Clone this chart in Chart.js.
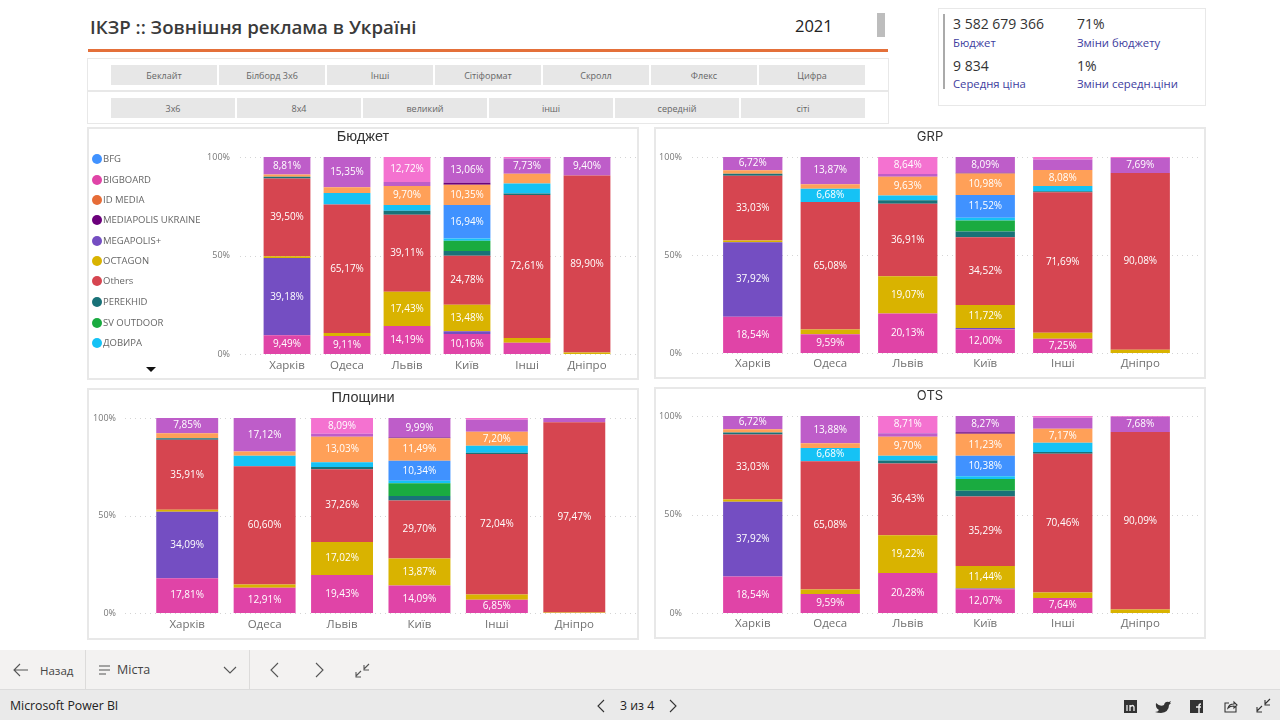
<!DOCTYPE html>
<html lang="uk"><head><meta charset="utf-8">
<script src="https://cdn.jsdelivr.net/npm/chart.js@4"></script>
<style>
html,body{margin:0;padding:0;background:#fff;width:1280px;height:720px;overflow:hidden;font-family:"Open Sans",sans-serif}
.a{position:absolute;white-space:nowrap}
.panel{position:absolute;box-sizing:border-box;border:2px solid #e8e8e8;background:#fff}
.btn{position:absolute;background:#e7e7e7;color:#666;font-size:9px;text-align:center;line-height:22px;height:20px}
canvas{position:absolute;left:0;top:0}
.lg{position:absolute;left:103px;font-size:9.5px;color:#666;line-height:12px;transform:translateY(-6px)}
.dot{position:absolute;left:92px;width:10px;height:10px;border-radius:50%;transform:translateY(-5px)}
.t{position:absolute;text-align:center;color:#333;transform:translateY(-50%)}
.kv{font-size:14px;color:#333}.kl{font-size:11.3px;color:#3d3d9e;line-height:17px}
svg{position:absolute;overflow:visible}
</style></head><body>
<div class="a" style="left:90px;top:12px;font-size:18.7px;font-weight:600;color:#3a3a3a;line-height:30px">ІКЗР :: Зовнішня реклама в Україні</div>
<div class="a" style="left:795px;top:14px;font-size:16.5px;color:#222;line-height:24px">2021</div>
<div class="a" style="left:877px;top:13px;width:8px;height:24px;background:#bdbdbd"></div>
<div class="a" style="left:88px;top:49px;width:800px;height:3px;background:#e4703a"></div>
<div class="panel" style="left:87px;top:58px;width:802px;height:33px;border-width:1.5px"></div>
<div class="panel" style="left:87px;top:91px;width:802px;height:33px;border-width:1.5px"></div>
<div id="btns"></div>

<div class="panel" style="left:938px;top:8px;width:268px;height:98px;border-width:1.5px"></div>
<div class="a" style="left:943px;top:14px;width:1.5px;height:75px;background:#aaa"></div>
<div class="a kv" style="left:953px;top:14px">3 582 679 366</div>
<div class="a kl" style="left:953px;top:34px">Бюджет</div>
<div class="a kv" style="left:1077px;top:14px">71%</div>
<div class="a kl" style="left:1077px;top:34px">Зміни бюджету</div>
<div class="a kv" style="left:953px;top:56px">9 834</div>
<div class="a kl" style="left:953px;top:75px">Середня ціна</div>
<div class="a kv" style="left:1077px;top:56px">1%</div>
<div class="a kl" style="left:1077px;top:75px">Зміни середн.ціни</div>

<div id="panels"></div>
<div id="legend"></div>
<div class="a" style="left:146px;top:367px;width:0;height:0;border-left:5px solid transparent;border-right:5px solid transparent;border-top:5px solid #111"></div>

<div class="a" style="left:0;top:650px;width:1280px;height:39px;background:#f3f2f1"></div>
<div class="a" style="left:0;top:689px;width:1280px;height:1px;background:#dcdcdc"></div>
<div class="a" style="left:0;top:690px;width:1280px;height:30px;background:#eaeaea"></div>
<div class="a" style="left:85px;top:650px;width:1px;height:39px;background:#dcdbda"></div>
<div class="a" style="left:249px;top:650px;width:1px;height:39px;background:#dcdbda"></div>
<div class="a" style="left:40px;top:662px;font-size:11.5px;color:#444;line-height:18px">Назад</div>
<div class="a" style="left:117px;top:661px;font-size:12.5px;color:#444;line-height:18px">Міста</div>
<div class="a" style="left:10px;top:697px;font-size:12.3px;color:#222;line-height:18px;font-weight:500">Microsoft Power BI</div>
<div class="a" style="left:620px;top:697px;font-size:12.3px;color:#222;line-height:18px;font-weight:500">3 из 4</div>
<svg style="left:0;top:0" width="1280" height="720" fill="none" stroke="#555" stroke-width="1.1">
<path d="M28 670H14M20 664l-6 6 6 6"/>
<path d="M99 666h11M99 670h11M99 674h7"/>
<path d="M224 667l6 6 6-6"/>
<path d="M278 663l-7 7 7 7M316 663l7 7-7 7"/>
<path d="M356 676l5-5M356 672v5h5M369 664l-5 5M364 665v5h5"/>
<path d="M604 700l-6 6 6 6M670 700l6 6-6 6" stroke="#333"/>
<path d="M1257 711l5-5M1257 707v5h5M1270 699l-5 5M1265 700v5h5" stroke="#333"/>
<rect x="1124" y="700" width="13" height="13" fill="#333" stroke="none"/>
<path d="M1127 705v6M1130 711v-6M1130 707q3-3 4 0v4" stroke="#eee" stroke-width="1.3"/>
<path d="M1156 703q4 4 8 2q1-4 5-3l2-1-1 2 1 0q-1 1-2 2q0 7-8 8q-3 0-6-1q3 0 4-2q-4-2-3-7z" fill="#333" stroke="none"/>
<rect x="1190" y="700" width="13" height="13" fill="#333" stroke="none"/>
<path d="M1199 713v-7q0-2 2-2M1196 707h5" stroke="#eee" stroke-width="1.5"/>
<path d="M1236 706v6h-11v-9h4M1228 708q1-4 6-4v-2l3 3-3 3v-2q-4 0-6 2z" stroke="#333"/>
</svg>

<script>
// Categories and axis
const cities = ["Харків","Одеса","Львів","Київ","Інші","Дніпро"];
const yTicks = [0,50,100];
const row1Labels = ["Беклайт","Білборд 3х6","Інші","Сітіформат","Скролл","Флекс","Цифра"];
const row2Labels = ["3х6","8х4","великий","інші","середній","сіті"];
const legendNames = ["BFG","BIGBOARD","ID MEDIA","MEDIAPOLIS UKRAINE","MEGAPOLIS+","OCTAGON","Others","PEREKHID","SV OUTDOOR","ДОВИРА"];
const legendColors = ["#4092ff","#e044a7","#e66c37","#6b007b","#744ec2","#d9b300","#d64550","#197278","#1aab40","#15c2f5"];

// Series colours, bottom to top of the stack
const stackNames = ["BIGBOARD","MEGAPOLIS+","OCTAGON","Others","PEREKHID","SV OUTDOOR","ДОВИРА","BFG","(оператор A)","MEDIAPOLIS UKRAINE","(оператор B)","(оператор C)"];
const stackColors = ["#e044a7","#744ec2","#d9b300","#d64550","#197278","#1aab40","#15c2f5","#4092ff","#ffa058","#6b007b","#be5dc9","#f472d0"];

// Бюджет
const budgetBigboard=[9.49,9.11,14.19,10.16,5.7,0];
const budgetMegapolis=[39.18,0,0,1.4,0,0];
const budgetOctagon=[0.9,1.6,17.43,13.48,2.4,0.7];
const budgetOthers=[39.5,65.17,39.11,24.78,72.61,89.9];
const budgetPerekhid=[0.9,0,2.0,2.5,0.8,0];
const budgetSv=[0,0,0,5.2,0,0];
const budgetDovyra=[0,5.9,2.9,1.12,5.0,0];
const budgetBfg=[0,0,0,16.94,0,0];
const budgetA=[1.2,2.87,9.7,10.35,5.0,0];
const budgetMediapolis=[0,0,0,1.0,0,0];
const budgetB=[8.81,15.35,1.95,13.06,7.73,9.4];
const budgetC=[0,0,12.72,0,0.76,0];
// GRP
const grpBigboard=[18.54,9.59,20.13,12.0,7.25,0];
const grpMegapolis=[37.92,0,0,0.8,0,0];
const grpOctagon=[1.0,2.4,19.07,11.72,3.1,1.7];
const grpOthers=[33.03,65.08,36.91,34.52,71.69,90.08];
const grpPerekhid=[1.0,0,1.8,2.9,0.5,0];
const grpSv=[0,0,0,5.6,0,0];
const grpDovyra=[0,6.68,2.4,1.5,2.7,0];
const grpBfg=[0,0,0,11.52,0,0];
const grpA=[1.79,2.38,9.63,10.98,8.08,0];
const grpMediapolis=[0,0,0,0.37,0,0];
const grpB=[6.72,13.87,1.4,8.09,5.4,7.69];
const grpC=[0,0,8.64,0,1.28,0.53];
// Площини
const areaBigboard=[17.81,12.91,19.43,14.09,6.85,0];
const areaMegapolis=[34.09,0,0,0,0,0];
const areaOctagon=[1.0,1.7,17.02,13.87,2.6,0.3];
const areaOthers=[35.91,60.6,37.26,29.7,72.04,97.47];
const areaPerekhid=[0.8,0,1.2,2.4,0.7,0];
const areaSv=[0,0,0,6.5,0,0];
const areaDovyra=[0,5.4,2.4,1.2,3.6,0];
const areaBfg=[0,0,0,10.34,0,0];
const areaA=[2.54,2.27,13.03,11.49,7.2,0];
const areaMediapolis=[0,0,0,0.4,0,0];
const areaB=[7.85,17.12,1.57,9.99,6.1,2.23];
const areaC=[0,0,8.09,0,0.91,0];
// OTS
const otsBigboard=[18.54,9.59,20.28,12.07,7.64,0];
const otsMegapolis=[37.92,0,0,0.4,0,0];
const otsOctagon=[1.1,2.4,19.22,11.44,2.8,1.8];
const otsOthers=[33.03,65.08,36.43,35.29,70.46,90.09];
const otsPerekhid=[1.0,0,1.5,2.9,0.8,0];
const otsSv=[0,0,0,5.9,0,0];
const otsDovyra=[0,6.68,2.4,1.4,4.7,0];
const otsBfg=[0,0,0,10.38,0,0];
const otsA=[1.69,2.37,9.7,11.23,7.17,0];
const otsMediapolis=[0,0,0,0.72,0,0];
const otsB=[6.72,13.88,1.76,8.27,5.5,7.68];
const otsC=[0,0,8.71,0,0.93,0.43];

const budgetSeries=[budgetBigboard,budgetMegapolis,budgetOctagon,budgetOthers,budgetPerekhid,budgetSv,budgetDovyra,budgetBfg,budgetA,budgetMediapolis,budgetB,budgetC];
const grpSeries=[grpBigboard,grpMegapolis,grpOctagon,grpOthers,grpPerekhid,grpSv,grpDovyra,grpBfg,grpA,grpMediapolis,grpB,grpC];
const areaSeries=[areaBigboard,areaMegapolis,areaOctagon,areaOthers,areaPerekhid,areaSv,areaDovyra,areaBfg,areaA,areaMediapolis,areaB,areaC];
const otsSeries=[otsBigboard,otsMegapolis,otsOctagon,otsOthers,otsPerekhid,otsSv,otsDovyra,otsBfg,otsA,otsMediapolis,otsB,otsC];

const LABEL_MIN = 6.6;
const FONT = '"Open Sans", sans-serif';

// Slicer buttons
const btns=document.getElementById('btns');
function addBtns(labels,x0,w,gap,top){labels.forEach((l,i)=>{const d=document.createElement('div');d.className='btn';
 d.style.cssText=`left:${x0+i*(w+gap)}px;top:${top}px;width:${w}px`;d.textContent=l;btns.appendChild(d);});}
addBtns(row1Labels,111,106,2,65);
addBtns(row2Labels,111,124,2,98);

// Legend
const lg=document.getElementById('legend');
const legendY=[159,180,200,220,241,261,281,302,323,343];
legendNames.forEach((n,i)=>{
 const d=document.createElement('div');d.className='dot';d.style.top=legendY[i]+'px';d.style.background=legendColors[i];lg.appendChild(d);
 const t=document.createElement('div');t.className='lg';t.style.top=legendY[i]+'px';t.textContent=n;lg.appendChild(t);
});

// Plugins: dotted value lines and in-bar labels
const dottedGrid={id:'dottedGrid',beforeDatasetsDraw(c,a,o){
 const y=c.scales.y,ctx=c.ctx;ctx.save();ctx.strokeStyle='#d4d4d4';ctx.lineWidth=1;ctx.setLineDash([1,4]);
 yTicks.forEach(v=>{const py=Math.round(y.getPixelForValue(v))+.5;ctx.beginPath();ctx.moveTo(o.x0,py);ctx.lineTo(o.x1,py);ctx.stroke();});
 ctx.restore();}};
const barLabels={id:'barLabels',afterDatasetsDraw(c){
 const ctx=c.ctx;ctx.save();ctx.font='10px '+FONT;ctx.fillStyle='#fff';ctx.textAlign='center';ctx.textBaseline='middle';
 c.data.datasets.forEach((ds,i)=>{c.getDatasetMeta(i).data.forEach((b,j)=>{const v=ds.data[j];
  if(v>=LABEL_MIN){ctx.fillText(v.toFixed(2).replace('.',',')+'%',b.x,(b.y+b.base)/2);}});});
 ctx.restore();}};

function makePanel(p){
 const host=document.getElementById('panels');
 const box=document.createElement('div');box.className='panel';
 box.style.cssText=`left:${p.x}px;top:${p.y}px;width:${p.w}px;height:${p.h}px`;host.appendChild(box);
 const wrap=document.createElement('div');wrap.style.cssText=`position:absolute;left:${p.x}px;top:${p.y}px;width:${p.w}px;height:${p.h}px`;
 const cv=document.createElement('canvas');cv.width=p.w;cv.height=p.h;cv.style.width=p.w+'px';cv.style.height=p.h+'px';wrap.appendChild(cv);host.appendChild(wrap);
 const t=document.createElement('div');t.className='t';t.textContent=p.title;
 t.style.cssText=`left:${p.x}px;width:${p.w}px;top:${p.ty}px;font:${p.tf};color:#333`;host.appendChild(t);
 new Chart(cv,{type:'bar',
  data:{labels:cities,datasets:p.series.map((s,i)=>({label:stackNames[i],data:s,backgroundColor:stackColors[i],borderWidth:0,barPercentage:p.bar,categoryPercentage:1}))},
  plugins:[dottedGrid,barLabels],
  options:{responsive:false,animation:false,
   layout:{padding:{left:0,right:p.x+p.w-p.right,top:p.top-p.y,bottom:0}},
   plugins:{legend:{display:false},title:{display:false},tooltip:{enabled:false},dottedGrid:{x0:p.dot0-p.x,x1:p.dot1-p.x},barLabels:{}},
   scales:{
    x:{stacked:true,grid:{display:false,drawTicks:false},border:{display:false},
       ticks:{font:{size:11.5,family:FONT},color:'#707070',padding:p.xpad,maxRotation:0,autoSkip:false},
       afterFit(s){s.height=p.y+p.h-p.bottom;s.paddingLeft=0;s.paddingRight=0;}},
    y:{stacked:true,min:0,max:100,grid:{display:false,drawTicks:false},border:{display:false},
       afterBuildTicks(s){s.ticks=yTicks.map(v=>({value:v}));},
       ticks:{font:{size:9,family:FONT},color:'#777',padding:p.left-p.lab,callback:v=>v+'%'},
       afterFit(s){s.width=p.left-p.x;s.paddingTop=0;s.paddingBottom=0;}}
   }}});
}
const panelDefs=[
 {title:'Бюджет',series:budgetSeries,x:87,y:127,w:552,h:253,left:257,right:617,top:157,bottom:354,lab:230,dot0:240,dot1:636,bar:.78,ty:136,tf:'14.5px "Liberation Sans"',xpad:5},
 {title:'GRP',series:grpSeries,x:654,y:127,w:552,h:252,left:714,right:1179,top:157,bottom:353,lab:682,dot0:692,dot1:1200,bar:.765,ty:136,tf:'13px "Inter"',xpad:4},
 {title:'Площини',series:areaSeries,x:87,y:388,w:552,h:252,left:148.5,right:613,top:418,bottom:613,lab:116,dot0:125,dot1:637,bar:.8,ty:397,tf:'14.5px "Liberation Sans"',xpad:5},
 {title:'OTS',series:otsSeries,x:654,y:387,w:552,h:252,left:714,right:1179,top:416,bottom:613,lab:682,dot0:692,dot1:1200,bar:.765,ty:395,tf:'13px "Inter"',xpad:4}
];
panelDefs.forEach(makePanel);
</script>
</body></html>
